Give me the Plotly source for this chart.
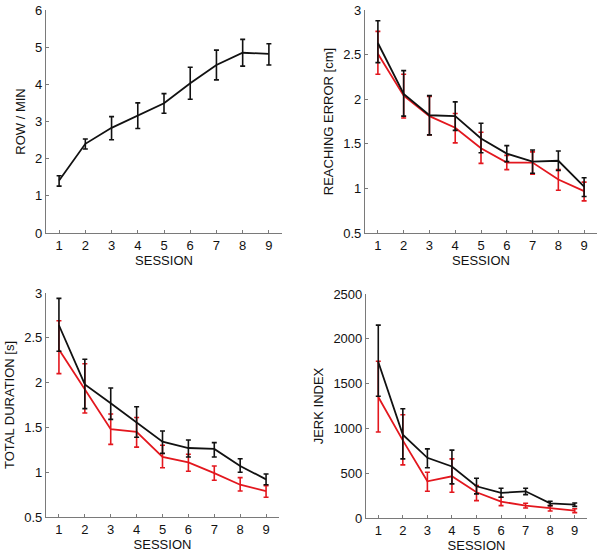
import plotly.graph_objects as go

sessions = [1, 2, 3, 4, 5, 6, 7, 8, 9]

# Panel 1: ROW / MIN (single black series)
row_mean = [1.41, 2.40, 2.83, 3.16, 3.49, 4.03, 4.52, 4.85, 4.82]
row_hi   = [1.54, 2.53, 3.13, 3.50, 3.75, 4.46, 4.92, 5.21, 5.09]
row_lo   = [1.26, 2.26, 2.51, 2.81, 3.22, 3.60, 4.12, 4.49, 4.52]

# Panel 2: REACHING ERROR [cm]
re_black      = [2.63, 2.06, 1.82, 1.81, 1.56, 1.39, 1.30, 1.31, 1.02]
re_black_hi   = [2.88, 2.32, 2.04, 1.97, 1.73, 1.48, 1.43, 1.42, 1.12]
re_black_lo   = [2.41, 1.81, 1.60, 1.65, 1.40, 1.30, 1.17, 1.20, 0.91]
re_red        = [2.51, 2.04, 1.81, 1.68, 1.45, 1.29, 1.29, 1.10, 0.97]
re_red_hi     = [2.76, 2.28, 2.03, 1.84, 1.63, 1.37, 1.41, 1.21, 1.07]
re_red_lo     = [2.28, 1.79, 1.60, 1.51, 1.28, 1.21, 1.16, 0.98, 0.86]

# Panel 3: TOTAL DURATION [s]
td_black      = [2.64, 1.98, 1.77, 1.56, 1.34, 1.27, 1.26, 1.07, 0.92]
td_black_hi   = [2.94, 2.26, 1.94, 1.73, 1.46, 1.36, 1.33, 1.15, 0.98]
td_black_lo   = [2.35, 1.71, 1.59, 1.39, 1.21, 1.17, 1.17, 1.00, 0.86]
td_red        = [2.37, 1.93, 1.48, 1.45, 1.17, 1.11, 0.99, 0.86, 0.79]
td_red_hi     = [2.69, 2.21, 1.65, 1.61, 1.30, 1.20, 1.07, 0.94, 0.85]
td_red_lo     = [2.10, 1.66, 1.31, 1.28, 1.05, 1.01, 0.91, 0.79, 0.72]

# Panel 4: JERK INDEX
jk_black      = [1742, 929, 672, 575, 354, 280, 298, 164, 149]
jk_black_hi   = [2153, 1220, 772, 757, 444, 332, 332, 187, 168]
jk_black_lo   = [1358, 660, 560, 381, 269, 231, 261, 138, 130]
jk_red        = [1351, 866, 410, 466, 287, 183, 138, 108, 82]
jk_red_hi     = [1750, 1153, 511, 660, 362, 231, 164, 138, 104]
jk_red_lo     = [959, 593, 298, 287, 194, 138, 112, 78, 60]

BLACK = "#111111"
RED = "#e3171e"
FONT = "Liberation Sans, Arial, sans-serif"


def trace(mean, hi, lo, color, ax):
    return go.Scatter(
        x=sessions, y=mean, mode="lines", xaxis="x" + ax, yaxis="y" + ax,
        line=dict(color=color, width=1.8), showlegend=False,
        error_y=dict(type="data", symmetric=False,
                     array=[h - m for h, m in zip(hi, mean)],
                     arrayminus=[m - l for m, l in zip(mean, lo)],
                     color=color, thickness=1.6, width=2.5),
    )


fig = go.Figure()
fig.add_trace(trace(row_mean, row_hi, row_lo, BLACK, ""))
fig.add_trace(trace(re_red, re_red_hi, re_red_lo, RED, "2"))
fig.add_trace(trace(re_black, re_black_hi, re_black_lo, BLACK, "2"))
fig.add_trace(trace(td_red, td_red_hi, td_red_lo, RED, "3"))
fig.add_trace(trace(td_black, td_black_hi, td_black_lo, BLACK, "3"))
fig.add_trace(trace(jk_red, jk_red_hi, jk_red_lo, RED, "4"))
fig.add_trace(trace(jk_black, jk_black_hi, jk_black_lo, BLACK, "4"))

W, H = 604, 554


def xdom(a, b):
    return [a / W, b / W]


def ydom(top, bottom):
    return [1 - bottom / H, 1 - top / H]


axis_common = dict(
    showline=True, linecolor="#7a7a7a", linewidth=1.2, ticks="inside",
    ticklen=3, tickcolor="#7a7a7a", tickwidth=1, showgrid=False,
    zeroline=False, mirror=False, automargin=False,
    tickfont=dict(family=FONT, size=13, color="#111"),
    title_font=dict(family=FONT, size=13, color="#111"),
)


def xaxis(dom, anchor):
    d = dict(axis_common)
    d.update(domain=dom, anchor=anchor, range=[0.5, 9.5], tickmode="array",
             tickvals=sessions, title=dict(text="SESSION", standoff=2))
    return d


def yaxis(dom, anchor, rng, dtick, title):
    d = dict(axis_common)
    d.update(domain=dom, anchor=anchor, range=rng, dtick=dtick,
             title=dict(text=title, standoff=6))
    return d


fig.update_layout(
    width=W, height=H, margin=dict(l=0, r=0, t=0, b=0),
    paper_bgcolor="white", plot_bgcolor="white",
    xaxis=xaxis(xdom(46, 282), "y"),
    yaxis=yaxis(ydom(10, 233), "x", [0, 6], 1, "ROW / MIN"),
    xaxis2=xaxis(xdom(365, 597), "y2"),
    yaxis2=yaxis(ydom(10, 233), "x2", [0.5, 3], 0.5, "REACHING ERROR [cm]"),
    xaxis3=xaxis(xdom(46, 279), "y3"),
    yaxis3=yaxis(ydom(293, 517), "x3", [0.5, 3], 0.5, "TOTAL DURATION [s]"),
    xaxis4=xaxis(xdom(366, 587), "y4"),
    yaxis4=yaxis(ydom(294, 518), "x4", [0, 2500], 500, "JERK INDEX"),
)

fig.write_html("out.html", config={"displayModeBar": False},
               post_script="document.body.style.margin='0px';")
